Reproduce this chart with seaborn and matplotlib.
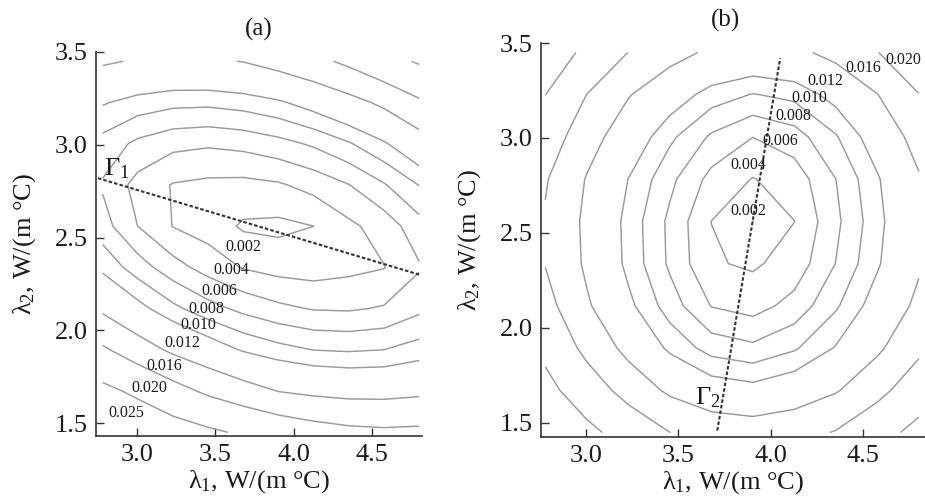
import numpy as np
import seaborn as sns
import matplotlib
matplotlib.use('Agg')
import matplotlib.pyplot as plt
from matplotlib.ticker import FormatStrFormatter

# --- data ---
# contour levels of the objective (same in both panels)
levels = [0.002, 0.004, 0.006, 0.008, 0.010, 0.012, 0.016, 0.020, 0.025]

# coarse grid the objective was evaluated on
grid_l1 = np.linspace(2.78, 4.80, 10)
grid_l2 = np.linspace(1.45, 3.45, 10)

# panel (a): minimum point, tilt and half-axes of each level curve
a_centre = (3.87, 2.545)
a_angle = -14.25            # deg, along Gamma_1
a_min = 0.0015
a_semi_major = [0.31, 0.78, 0.98, 1.14, 1.30, 1.47, 1.78, 2.05, 2.40]
a_semi_minor = [0.13, 0.27, 0.39, 0.50, 0.60, 0.69, 0.85, 0.98, 1.13]

# panel (b)
b_centre = (3.90, 2.52)
b_angle = 80.2              # deg, along Gamma_2
b_min = 0.00195
b_semi_major = [0.05, 0.33, 0.49, 0.61, 0.72, 0.82, 1.00, 1.16, 1.34]
b_semi_minor = [0.035, 0.235, 0.365, 0.48, 0.60, 0.72, 0.95, 1.14, 1.32]

# valley lines Gamma_1, Gamma_2
gamma1_x = [2.75, 4.80]
gamma1_y = [2.82, 2.30]
gamma2_x = [3.71, 4.05]
gamma2_y = [1.46, 3.42]

# where the level values are written
a_label_x = [3.677, 3.603, 3.523, 3.442, 3.389, 3.288, 3.175, 3.079, 2.93]
a_label_y = [2.45, 2.327, 2.214, 2.112, 2.031, 1.932, 1.806, 1.689, 1.554]
b_label_x = [3.876, 3.876, 4.049, 4.119, 4.205, 4.295, 4.498, 4.714]
b_label_y = [2.614, 2.860, 2.982, 3.114, 3.211, 3.298, 3.368, 3.412]

xticks = [3.0, 3.5, 4.0, 4.5]
yticks = [1.5, 2.0, 2.5, 3.0, 3.5]


def objective(centre, angle, fmin, semi_a, semi_b):
    # field whose level curves are the nested ellipses given above
    X, Y = np.meshgrid(grid_l1, grid_l2)
    t = np.deg2rad(angle)
    dx, dy = X - centre[0], Y - centre[1]
    u = dx * np.cos(t) + dy * np.sin(t)
    v = -dx * np.sin(t) + dy * np.cos(t)
    s = np.hypot(u[..., None] / np.array(semi_a), v[..., None] / np.array(semi_b))
    lv = np.array(levels)
    n = len(lv)
    i = (s > 1).sum(-1)
    Z = np.empty(X.shape)
    inner = i == 0
    Z[inner] = fmin + (lv[0] - fmin) * s[inner, 0] ** 2
    outer = i == n
    Z[outer] = lv[-1] * s[outer, -1]
    mid = ~(inner | outer)
    k = i[mid]
    sm = s[mid]
    s_out = sm[np.arange(k.size), k - 1]
    s_in = sm[np.arange(k.size), k]
    frac = (s_out - 1) / (s_out - s_in)
    Z[mid] = lv[k - 1] + frac * (lv[k] - lv[k - 1])
    return X, Y, Z


sns.set_style('ticks')
plt.rcParams['font.family'] = ['Liberation Serif', 'DejaVu Serif']
plt.rcParams['mathtext.fontset'] = 'custom'
plt.rcParams['mathtext.rm'] = 'Liberation Serif'
plt.rcParams['mathtext.default'] = 'regular'

fig = plt.figure(figsize=(9.25, 5), dpi=100)
ax_a = fig.add_axes([0.1038, 0.128, 0.3524, 0.768])
ax_b = fig.add_axes([0.5849, 0.126, 0.4151, 0.788])

panels = [
    (ax_a, '(a)', 0.5, (2.738, 4.818), (1.43, 3.5),
     objective(a_centre, a_angle, a_min, a_semi_major, a_semi_minor),
     a_label_x, a_label_y, gamma1_x, gamma1_y, (2.79, 2.835), r'$\Gamma_1$'),
    (ax_b, '(b)', 0.48, (2.757, 4.833), (1.426, 3.5),
     objective(b_centre, b_angle, b_min, b_semi_major, b_semi_minor),
     b_label_x, b_label_y, gamma2_x, gamma2_y, (3.59, 1.595), r'$\Gamma_2$'),
]

for ax, title, tx, xlim, ylim, (X, Y, Z), lx, ly, gx, gy, gpos, gname in panels:
    ax.set_xlim(*xlim)
    ax.set_ylim(*ylim)
    ax.contour(X, Y, Z, levels=levels, colors='#9a9a9a', linewidths=1.05)
    for lev, x, y in zip(levels, lx, ly):
        ax.text(x, y, f'{lev:.3f}', fontsize=11.5, color='#1a1a1a',
                ha='center', va='center')
    sns.lineplot(x=gx, y=gy, ax=ax, color='#333333', lw=1.5,
                 linestyle=(0, (1.7, 1.0)), sort=False)
    ax.text(gpos[0], gpos[1], gname, fontsize=19, color='#1a1a1a',
            ha='left', va='baseline')

    ax.set_xticks(xticks)
    ax.set_yticks(yticks)
    ax.xaxis.set_major_formatter(FormatStrFormatter('%.1f'))
    ax.yaxis.set_major_formatter(FormatStrFormatter('%.1f'))
    ax.tick_params(direction='in', length=6, width=1.0, labelsize=19,
                   colors='#333333', labelcolor='#1a1a1a', pad=6)
    ax.set_xlabel('λ$_1$, W/(m °C)', fontsize=19, labelpad=1, color='#1a1a1a')
    ax.set_ylabel('λ$_2$, W/(m °C)', fontsize=19, labelpad=12, color='#1a1a1a')
    ax.set_title(title, fontsize=18, pad=12, x=tx, color='#1a1a1a')
    sns.despine(ax=ax)
    for side in ['left', 'bottom']:
        ax.spines[side].set_color('#333333')
        ax.spines[side].set_linewidth(1.2)

fig.savefig('out.png', dpi=100)
